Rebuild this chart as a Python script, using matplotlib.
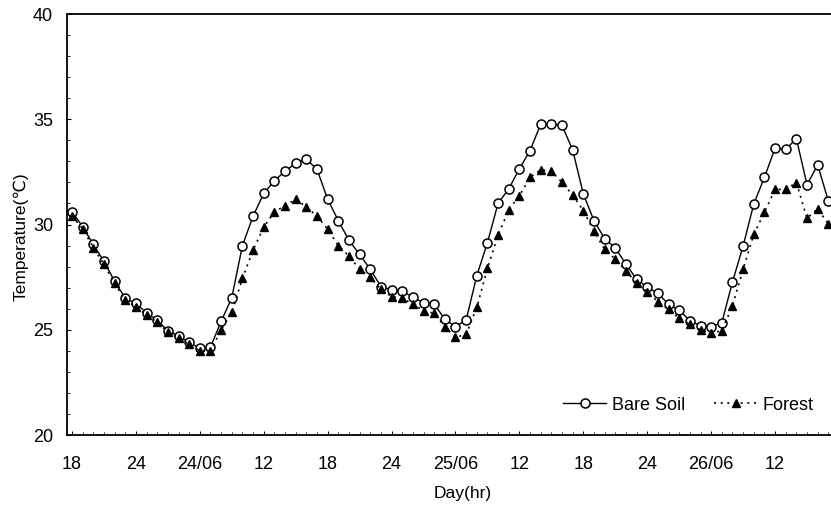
import matplotlib
matplotlib.use("Agg")
import matplotlib.pyplot as plt
from matplotlib.ticker import MultipleLocator

plt.rcParams['font.family'] = ['Liberation Sans', 'DejaVu Sans']

hours = list(range(18, 90))

bare_soil = [30.6, 29.9, 29.05, 28.25, 27.3, 26.5, 26.25, 25.8, 25.45, 24.95,
             24.7, 24.4, 24.12, 24.18, 25.4, 26.52, 29.0, 30.4, 31.48, 32.08,
             32.53, 32.91, 33.1, 32.62, 31.2, 30.18, 29.25, 28.58, 27.87, 27.05,
             26.89, 26.84, 26.54, 26.29, 26.22, 25.5, 25.15, 25.46, 27.57, 29.14,
             31.01, 31.69, 32.65, 33.51, 34.77, 34.77, 34.71, 33.54, 31.45, 30.18,
             29.33, 28.88, 28.12, 27.4, 27.02, 26.73, 26.21, 25.94, 25.43, 25.19,
             25.15, 25.33, 27.27, 28.98, 30.97, 32.24, 33.63, 33.57, 34.08, 31.89,
             32.83, 31.12]

forest = [30.4, 29.8, 28.9, 28.1, 27.2, 26.4, 26.1, 25.7, 25.35, 24.9,
          24.6, 24.3, 24.0, 24.0, 25.0, 25.83, 27.44, 28.79, 29.87, 30.61,
          30.88, 31.21, 30.82, 30.4, 29.77, 28.99, 28.5, 27.87, 27.49, 26.92,
          26.57, 26.49, 26.22, 25.91, 25.78, 25.15, 24.64, 24.78, 26.06, 27.92,
          29.5, 30.69, 31.37, 32.24, 32.59, 32.54, 32.0, 31.4, 30.66, 29.68,
          28.82, 28.35, 27.81, 27.21, 26.81, 26.33, 25.97, 25.54, 25.27, 24.99,
          24.85, 24.95, 26.14, 27.87, 29.53, 30.58, 31.67, 31.67, 31.99, 30.29,
          30.76, 30.01]

tick_hours = [18, 24, 30, 36, 42, 48, 54, 60, 66, 72, 78, 84]
tick_labels = ["18", "24", "24/06", "12", "18", "24", "25/06", "12", "18", "24", "26/06", "12"]

W, H = 831, 508
fig = plt.figure(figsize=(W / 100, H / 100), dpi=100)
ax = fig.add_axes([67 / W, (H - 435) / H, (W - 67) / W, (435 - 14) / H])

ax.plot(hours, bare_soil, color='black', linewidth=1.0, linestyle='-',
        marker='o', markersize=6.5, markerfacecolor='white',
        markeredgecolor='black', markeredgewidth=1.1, label='Bare Soil')
ax.plot(hours, forest, color='black', linewidth=1.2, linestyle=(0, (1.2, 2.8)),
        marker='^', markersize=6, markerfacecolor='black',
        markeredgecolor='black', label='Forest')

ax.set_xlim(17.53, 89.25)
ax.set_ylim(20, 40)
ax.set_xticks(tick_hours)
ax.set_xticklabels(tick_labels)
ax.xaxis.set_minor_locator(MultipleLocator(1))
ax.yaxis.set_major_locator(MultipleLocator(5))
ax.yaxis.set_minor_locator(MultipleLocator(1))

ax.tick_params(axis='both', which='major', direction='in', length=3, width=0.8,
               labelsize=13)
ax.tick_params(axis='both', which='minor', direction='in', length=2, width=0.6)
ax.tick_params(axis='x', which='major', pad=15)
ax.tick_params(axis='y', which='major', pad=10)

for s in ['left', 'bottom', 'top']:
    ax.spines[s].set_linewidth(1.3)
ax.spines['right'].set_visible(False)

ax.set_xlabel('Day(hr)', fontsize=12.5)
ax.xaxis.set_label_coords((463 - 67) / (W - 67), -(486 - 435) / (435 - 14))
ax.set_ylabel('Temperature(℃)', fontsize=12.5)
ax.yaxis.set_label_coords(-(67 - 29) / (W - 67), 0.47)

ax.legend(loc='lower right', ncol=2, frameon=False, fontsize=13,
          handlelength=2.4, handletextpad=0.3, columnspacing=1.6,
          bbox_to_anchor=((830 - 67) / (W - 67), (435 - 430) / (435 - 14)))

fig.savefig('out.png', dpi=100)
